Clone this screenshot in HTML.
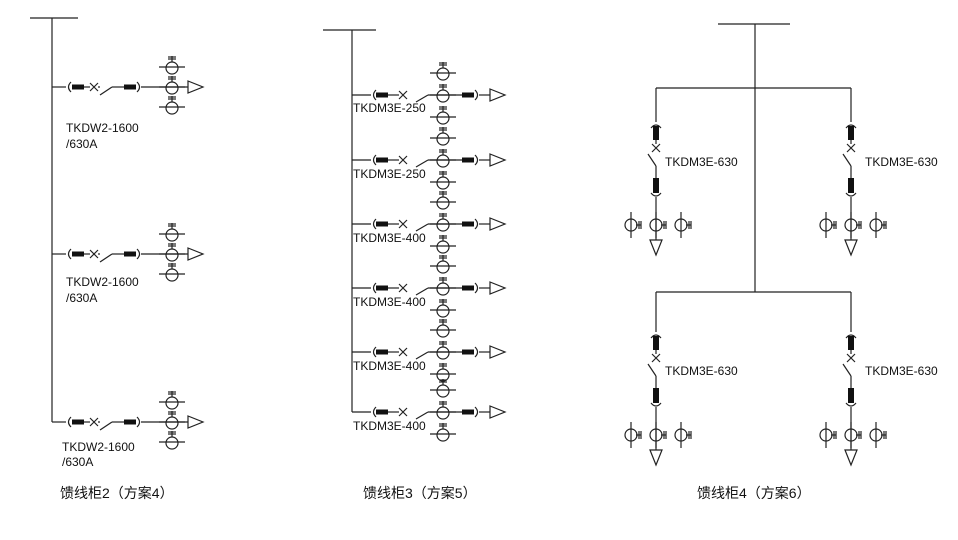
<!DOCTYPE html><html><head><meta charset="utf-8"><style>
body{margin:0;background:#fff}
svg{display:block}
text{font-family:"Liberation Sans","Noto Sans CJK SC",sans-serif;font-size:12px;fill:#111}
.c{font-size:14px}
</style></head><body>
<svg width="958" height="540" viewBox="0 0 958 540" stroke="#222" stroke-width="1.2" fill="none">
<defs>
<g id="ct"><circle cx="0" cy="1" r="6"/><line x1="-13" y1="0" x2="13" y2="0"/><line x1="0" y1="-5" x2="0" y2="-11"/><line x1="-4" y1="-8" x2="4" y2="-8"/><line x1="-4" y1="-10" x2="4" y2="-10"/></g>
<g id="ctv"><circle cx="0" cy="0" r="6"/><line x1="0" y1="-13" x2="0" y2="13"/><line x1="5" y1="0" x2="10" y2="0"/><line x1="8" y1="-4" x2="8" y2="4"/><line x1="10" y1="-4" x2="10" y2="4"/></g>
<g id="h1"><line x1="0" y1="0" x2="14" y2="0"/><path d="M19,-5 Q14,0 19,5"/><rect x="20" y="-2.5" width="12" height="5" fill="#111" stroke="none"/><line x1="32" y1="0" x2="38" y2="0"/><path d="M38,-4 L46,4 M38,4 L46,-4"/><line x1="46" y1="0" x2="48" y2="0"/><line x1="48" y1="8" x2="60" y2="0"/><line x1="60" y1="0" x2="72" y2="0"/><rect x="72" y="-2.5" width="12" height="5" fill="#111" stroke="none"/><path d="M85,-5 Q90,0 85,5"/><line x1="89" y1="0" x2="136" y2="0"/><path d="M136,-6 L151,0 L136,6 Z"/><use href="#ct" x="120" y="-20"/><use href="#ct" x="120" y="0"/><use href="#ct" x="120" y="20"/></g>
<g id="h2"><line x1="0" y1="0" x2="19" y2="0"/><path d="M24,-5 Q19,0 24,5"/><rect x="24" y="-2.5" width="12" height="5" fill="#111" stroke="none"/><line x1="36" y1="0" x2="47" y2="0"/><path d="M47,-4 L55,4 M47,4 L55,-4"/><line x1="64" y1="7" x2="76" y2="0"/><line x1="76" y1="0" x2="110" y2="0"/><rect x="110" y="-2.5" width="12" height="5" fill="#111" stroke="none"/><path d="M123,-5 Q128,0 123,5"/><line x1="127" y1="0" x2="138" y2="0"/><path d="M138,-6 L153,0 L138,6 Z"/><use href="#ct" x="91" y="-22"/><use href="#ct" x="91" y="0"/><use href="#ct" x="91" y="22"/></g>
<g id="v"><line x1="0" y1="0" x2="0" y2="34"/><path d="M-5,40 Q0,34 5,40"/><rect x="-3" y="38" width="6" height="14" fill="#111" stroke="none"/><line x1="0" y1="52" x2="0" y2="56"/><path d="M-4,56 L4,64 M-4,64 L4,56"/><line x1="-8" y1="66" x2="0" y2="78"/><line x1="0" y1="78" x2="0" y2="90"/><rect x="-3" y="90" width="6" height="15" fill="#111" stroke="none"/><path d="M-5,105 Q0,111 5,105"/><line x1="0" y1="109" x2="0" y2="152"/><path d="M-6,152 L0,167 L6,152 Z"/><use href="#ctv" x="-25" y="137"/><use href="#ctv" x="0" y="137"/><use href="#ctv" x="25" y="137"/></g>
</defs>
<!-- panel 1 -->
<line x1="30" y1="18" x2="78" y2="18"/><line x1="52" y1="18" x2="52" y2="422"/>
<use href="#h1" x="52" y="87"/><use href="#h1" x="52" y="254"/><use href="#h1" x="52" y="422"/>
<g stroke="none"><text x="66" y="132">TKDW2-1600</text><text x="66" y="148">/630A</text>
<text x="66" y="286">TKDW2-1600</text><text x="66" y="302">/630A</text>
<text x="62" y="451">TKDW2-1600</text><text x="62" y="466">/630A</text>
<text class="c" x="60" y="498">馈线柜2（方案4）</text></g>
<!-- panel 2 -->
<line x1="323" y1="30" x2="376" y2="30"/><line x1="352" y1="30" x2="352" y2="412"/>
<use href="#h2" x="352" y="95"/><use href="#h2" x="352" y="160"/><use href="#h2" x="352" y="224"/><use href="#h2" x="352" y="288"/><use href="#h2" x="352" y="352"/><use href="#h2" x="352" y="412"/>
<g stroke="none"><text x="353" y="112">TKDM3E-250</text><text x="353" y="178">TKDM3E-250</text><text x="353" y="242">TKDM3E-400</text><text x="353" y="306">TKDM3E-400</text><text x="353" y="370">TKDM3E-400</text><text x="353" y="430">TKDM3E-400</text>
<text class="c" x="363" y="498">馈线柜3（方案5）</text></g>
<!-- panel 3 -->
<line x1="718" y1="24" x2="790" y2="24"/><line x1="755" y1="24" x2="755" y2="292"/>
<line x1="656" y1="88" x2="851" y2="88"/><line x1="656" y1="292" x2="851" y2="292"/>
<use href="#v" x="656" y="88"/><use href="#v" x="851" y="88"/><use href="#v" x="656" y="298"/><use href="#v" x="851" y="298"/>
<line x1="656" y1="292" x2="656" y2="298"/><line x1="851" y1="292" x2="851" y2="298"/>
<g stroke="none"><text x="665" y="166">TKDM3E-630</text><text x="865" y="166">TKDM3E-630</text><text x="665" y="375">TKDM3E-630</text><text x="865" y="375">TKDM3E-630</text>
<text class="c" x="697" y="498">馈线柜4（方案6）</text></g>
</svg>
</body></html>
